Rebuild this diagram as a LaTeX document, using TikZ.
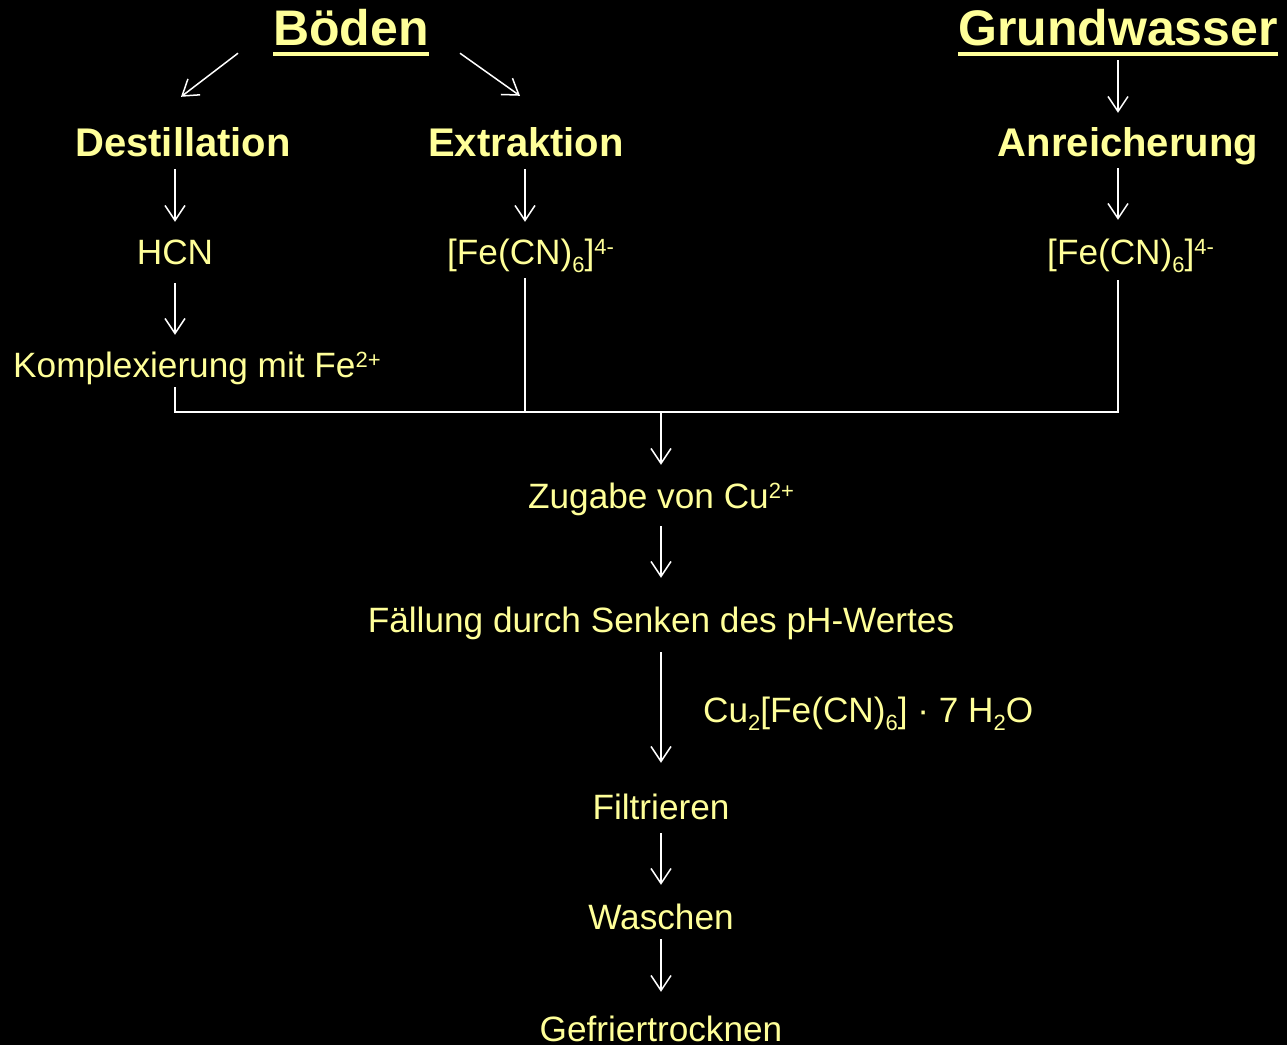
\documentclass[tikz,border=0pt]{standalone}
\usepackage{fontspec}
\setmainfont{Liberation Sans}
\usetikzlibrary{arrows.meta,calc}
\definecolor{txt}{HTML}{FFFF99}
\newcommand\sps[1]{\raisebox{10pt}{\fontsize{22}{22}\selectfont #1}}
\newcommand\sbs[1]{\raisebox{-8pt}{\fontsize{22}{22}\selectfont #1}}
\begin{document}
\begin{tikzpicture}[x=1pt,y=-1pt,
 big/.style={font=\fontsize{50}{60}\selectfont\bfseries, text=txt, inner sep=0pt, text height=37pt, text depth=11pt, anchor=base},
 head/.style={font=\fontsize{40}{48}\selectfont\bfseries, text=txt, inner sep=0pt, text height=29pt, text depth=9pt, anchor=base},
 txtn/.style={font=\fontsize{35.2}{42}\selectfont, text=txt, inner sep=0pt, text height=26pt, text depth=8pt, anchor=base},
 arr/.style={draw=white, line width=1.5pt, -{Straight Barb[length=15pt,width=20pt]}},
 ln/.style={draw=white, line width=1.5pt},
 ul/.style={draw=txt, line width=4pt}]
\fill[black] (0,0) rectangle (1287,1045);
\useasboundingbox (0,0) rectangle (1287,1045);
\node[big] (boeden) at (351,45) {Böden};
\node[big] (grund) at (1118,45) {Grundwasser};
\node[head] (dest) at (183,156) {Destillation};
\node[head] (ext) at (526,156) {Extraktion};
\node[head] (anr) at (1128,156) {Anreicherung};
\node[txtn] (hcn) at (175,264) {HCN};
\node[txtn, anchor=base west] (fe1) at (447,264) {[Fe(CN)\sbs{6}]\sps{4-}};
\node[txtn, anchor=base west] (fe2) at (1047,264) {[Fe(CN)\sbs{6}]\sps{4-}};
\node[txtn, anchor=base west] (komp) at (13,377) {Komplexierung mit Fe\sps{2+}};
\coordinate (j) at (661,412);
\node[txtn] (zug) at (661,508) {Zugabe von Cu\sps{2+}};
\node[txtn] (fael) at (661,632) {Fällung durch Senken des pH-Wertes};
\node[txtn, anchor=base west] (cu) at (703,722) {Cu\sbs{2}[Fe(CN)\sbs{6}] · 7 H\sbs{2}O};
\node[txtn] (filt) at (661,819) {Filtrieren};
\node[txtn] (wasch) at (661,929) {Waschen};
\node[txtn] (gefr) at (661,1041) {Gefriertrocknen};
% underlines
\draw[ul] ([yshift=-9pt]boeden.base west) -- ([yshift=-9pt]boeden.base east);
\draw[ul] ([yshift=-9pt]grund.base west) -- ([yshift=-9pt]grund.base east);
% arrows
\draw[arr] ($(boeden.south west)+(-35,-3)$) -- ($(dest.north)+(-2,-30)$);
\draw[arr] ($(boeden.south east)+(31,-3)$) -- ($(ext.north)+(-6,-31)$);
\draw[arr, shorten <=4pt, shorten >=14pt] (grund.south) -- (grund.south |- anr.north);
\draw[arr, shorten <=4pt, shorten >=16pt] (dest.south -| hcn) -- (hcn.north);
\draw[arr, shorten <=4pt, shorten >=16pt] ($(ext.south)+(-1,0)$) -- ($(ext.south |- fe1.north)+(-1,0)$);
\draw[arr, shorten <=3pt, shorten >=18pt] (anr.south -| grund) -- (grund |- fe2.north);
\draw[arr, shorten <=11pt, shorten >=16pt] (hcn.south) -- (hcn.south |- komp.north);
% junction
\draw[ln] ($(hcn.south |- komp.south)+(0,2)$) |- (grund |- j) -- ($(grund |- fe2.south)+(0,8)$);
\draw[ln] ($(ext.south |- fe1.south)+(-1,6)$) -- ($(ext.south |- j)+(-1,0)$);
\draw[arr, shorten >=17pt] (j) -- (j |- zug.north);
\draw[arr, shorten <=10pt, shorten >=28pt] (zug.south) -- (fael.north);
\draw[arr, shorten <=12pt, shorten >=30pt] (fael.south) -- (filt.north);
\draw[arr, shorten <=6pt, shorten >=18pt] (filt.south) -- (wasch.north);
\draw[arr, shorten <=2pt, shorten >=23pt] (wasch.south) -- (gefr.north);
\end{tikzpicture}
\end{document}
